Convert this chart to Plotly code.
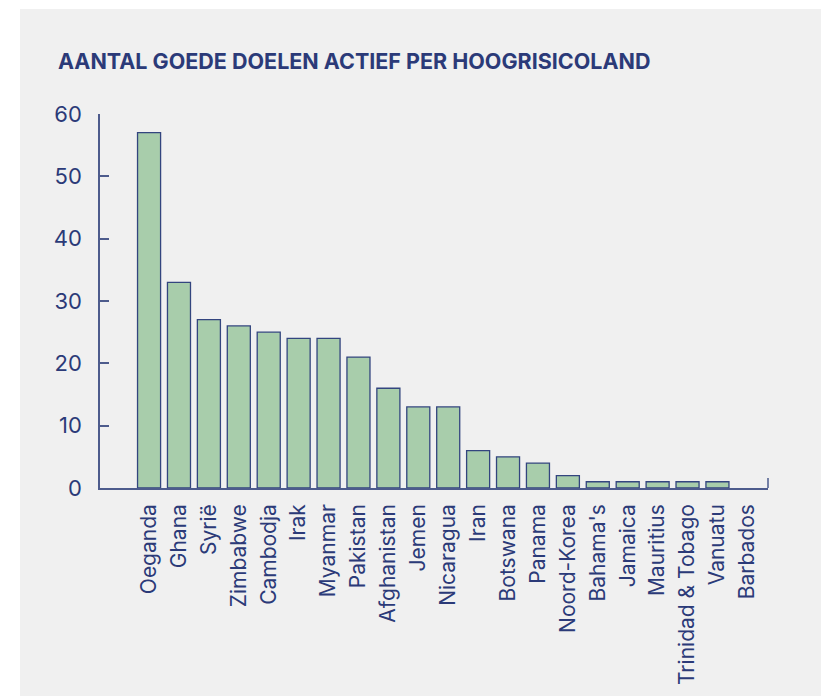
import plotly.graph_objects as go

countries = ["Oeganda", "Ghana", "Syrië", "Zimbabwe", "Cambodja", "Irak", "Myanmar",
             "Pakistan", "Afghanistan", "Jemen", "Nicaragua", "Iran", "Botswana",
             "Panama", "Noord-Korea", "Bahama's", "Jamaica", "Mauritius",
             "Trinidad & Tobago", "Vanuatu", "Barbados"]
values = [57, 33, 27, 26, 25, 24, 24, 21, 16, 13, 13, 6, 5, 4, 2, 1, 1, 1, 1, 1, 0]
y_ticks = [0, 10, 20, 30, 40, 50, 60]

NAVY = "#2b3a78"
AXIS = "#4d5b8c"
FONT = "Inter"

W, H = 821, 696
L, R, T, B = 100, 768, 114, 488

fig = go.Figure(go.Bar(
    x=list(range(len(countries))), y=values,
    marker=dict(color="#a8cdab",
                line=dict(color="#33457f", width=[1.3 if v > 0 else 0 for v in values])),
    width=0.77,
))

fig.update_layout(
    width=W, height=H,
    margin=dict(l=L, r=W - R, t=T, b=H - B, pad=0),
    paper_bgcolor="white", plot_bgcolor="rgba(0,0,0,0)",
    showlegend=False,
    title=dict(text="<b>AANTAL GOEDE DOELEN ACTIEF PER HOOGRISICOLAND</b>",
               xref="container", yref="container", x=58 / W, xanchor="left",
               y=1 - 61 / H, yanchor="middle",
               font=dict(family=FONT, size=21.5, color=NAVY)),
    font=dict(family=FONT, color=NAVY),
    xaxis=dict(range=[-1.64, 20.69], tickmode="array",
               tickvals=list(range(len(countries))), ticktext=countries,
               tickangle=-90, showgrid=False, zeroline=False,
               showline=True, linecolor=AXIS, linewidth=1.5, ticks="",
               tickfont=dict(family=FONT, size=21, color=NAVY),
               ticklabelstandoff=6),
    yaxis=dict(range=[0, 60], tickmode="array", tickvals=y_ticks,
               showgrid=False, zeroline=False, showline=True, linecolor=AXIS,
               linewidth=1.5, ticks="inside", ticklen=9, tickcolor=AXIS,
               tickwidth=1.5,
               tickfont=dict(family=FONT, size=22, color=NAVY),
               ticklabelstandoff=12),
    shapes=[
        dict(type="rect", xref="paper", yref="paper", layer="below",
             x0=(20 - L) / (R - L), x1=(W + 20 - L) / (R - L),
             y0=(B - H - 20) / (B - T), y1=(B - 9) / (B - T),
             fillcolor="#f0f0f0", line=dict(width=0)),
        dict(type="line", xref="x domain", yref="y", x0=1, x1=1,
             ysizemode="pixel", yanchor=0, y0=0, y1=10,
             line=dict(color=AXIS, width=1.5)),
    ],
)

fig.write_html(
    "out.html",
    config={"displayModeBar": False},
    post_script="document.body.style.margin='0';"
                "document.documentElement.style.overflow='hidden';",
)
